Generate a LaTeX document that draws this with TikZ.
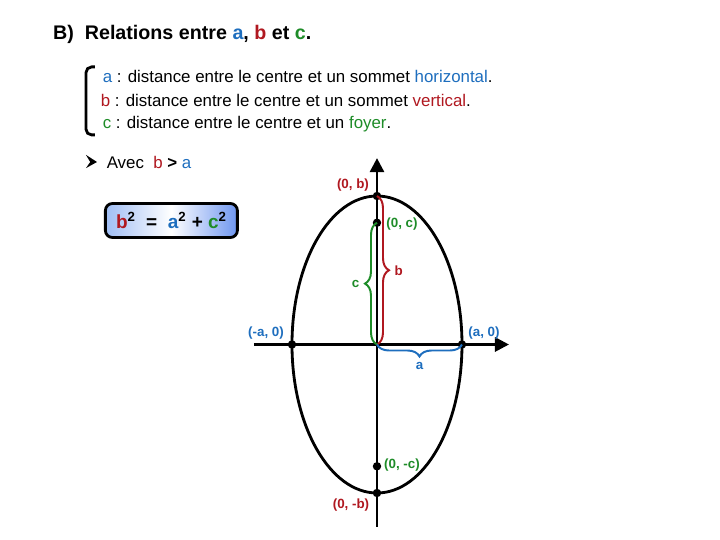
\documentclass[tikz,border=0pt]{standalone}
\usepackage{fontspec}
\setmainfont{Liberation Sans}
\usetikzlibrary{arrows.meta,decorations.pathreplacing}
\definecolor{rougeb}{RGB}{176,24,32}
\definecolor{bleua}{RGB}{30,110,190}
\definecolor{vertc}{RGB}{30,140,40}
\definecolor{cielg}{RGB}{160,190,245}
\definecolor{cield}{RGB}{110,150,240}

\begin{document}
\begin{tikzpicture}[x=1cm,y=1cm,
    sommet/.style={circle,fill=black,inner sep=0pt,minimum size=6pt},
    etiq/.style={font=\fontsize{9.5}{11}\selectfont\bfseries},
    texte/.style={anchor=west,font=\fontsize{12}{14}\selectfont},
    accolade/.style={decorate,decoration={brace,amplitude=0.3cm},line width=1.4pt},
    axe/.style={line width=2pt,-{Triangle[length=10pt,width=10pt]}}]
        \useasboundingbox (-9.425,-4.8875) rectangle (8.575,8.6125);

        % Titre
        \node[anchor=west,font=\fontsize{14}{17}\selectfont\bfseries] (titre) at (-8.22,7.74)
            {B)\ \ Relations entre \textcolor{bleua}{a}, \textcolor{rougeb}{b} et \textcolor{vertc}{c}.};

        % Definitions de a, b, c
        \draw[line width=2pt,rounded corners=4pt] (-7.05,6.94) -- (-7.275,6.94) -- (-7.275,5.24) -- (-7.05,5.24);
        \node[texte] (defa) at (-6.98,6.69) {\textcolor{bleua}{a} : distance entre le centre et un sommet \textcolor{bleua}{horizontal}.};
        \node[texte] (defb) at (-7.03,6.11) {\textcolor{rougeb}{b} : distance entre le centre et un sommet \textcolor{rougeb}{vertical}.};
        \node[texte] (defc) at (-6.98,5.51) {\textcolor{vertc}{c} : distance entre le centre et un \textcolor{vertc}{foyer}.};

        % Condition
        \fill (-7.275,4.74) -- (-7.0,4.5625) -- (-7.275,4.41) -- (-7.17,4.5625) -- cycle;
        \node[texte] (avec) at (-6.88,4.5625) {Avec\ \ \textcolor{rougeb}{b} {\bfseries >} \textcolor{bleua}{a}};

        % Relation
        \node[draw,line width=2pt,rounded corners=5pt,minimum width=3.3cm,minimum height=0.85cm,
              left color=cielg,right color=cield,middle color=white,
              font=\fontsize{13.5}{16}\selectfont\bfseries] (relation) at (-5.14,3.1)
            {\textcolor{rougeb}{b}\textsuperscript{2}\ \ =\ \ \textcolor{bleua}{a}\textsuperscript{2} + \textcolor{vertc}{c}\textsuperscript{2}};

        % Axes et ellipse
        \coordinate (O) at (0,0);
        \coordinate (xg) at (-3.075,0);
        \coordinate (xd) at (3.3,0);
        \coordinate (yb) at (0,-4.56);
        \coordinate (yh) at (0,4.66);
        \draw[line width=2pt] (O) ellipse (2.125 and 3.7125);
        \draw[axe] (xg) -- (xd);
        \draw[axe] (yb) -- (yh);

        % Sommets et foyers
        \node[sommet] (B) at (0,3.7125) {};
        \node[sommet] (Bm) at (0,-3.7125) {};
        \node[sommet] (A) at (2.125,0) {};
        \node[sommet] (Am) at (-2.125,0) {};
        \node[sommet] (F) at (0,3.044) {};
        \node[sommet] (Fm) at (0,-3.044) {};

        % Accolades
        \draw[accolade,rougeb] (B.center) -- (O) node[midway,right=0.3cm,etiq] (lb) {b};
        \draw[accolade,vertc] (O) -- (F.center) node[midway,left=0.3cm,etiq] (lc) {c};
        \draw[accolade,bleua] (A.center) -- (O) node[midway,below=0.3cm,etiq] (la) {a};

        % Coordonnees
        \node[etiq,rougeb] (tB) at (-0.6,3.99) {(0, b)};
        \node[etiq,vertc] (tF) at (0.625,3.01) {(0, c)};
        \node[etiq,bleua] (tAm) at (-2.775,0.29) {(-a, 0)};
        \node[etiq,bleua] (tA) at (2.675,0.29) {(a, 0)};
        \node[etiq,vertc] (tFm) at (0.625,-3.01) {(0, -c)};
        \node[etiq,rougeb] (tBm) at (-0.65,-4.01) {(0, -b)};
\end{tikzpicture}
\end{document}
